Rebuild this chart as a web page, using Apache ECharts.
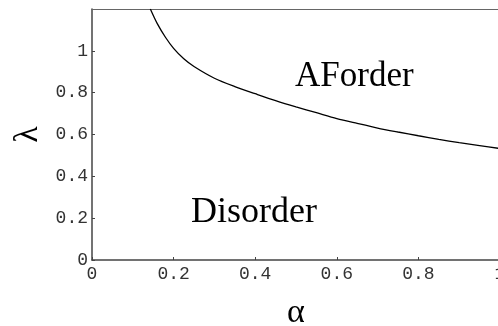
<!DOCTYPE html>
<html>
<head>
<meta charset="utf-8">
<script src="https://cdn.jsdelivr.net/npm/echarts@6/dist/echarts.min.js"></script>
<style>
  html, body { margin: 0; padding: 0; background: #fff; }
  #myChart { width: 498px; height: 326px; }
</style>
</head>
<body>
<div id="myChart"></div>
<script>
// phase boundary lambda(alpha)
var alphaData = [0.143, 0.16, 0.18, 0.2, 0.225, 0.25, 0.3, 0.35, 0.4, 0.45, 0.5,
  0.55, 0.6, 0.65, 0.7, 0.75, 0.8, 0.85, 0.9, 0.95, 1.0]
var lambdaData = [1.2, 1.13, 1.065, 1.012, 0.962, 0.925, 0.869, 0.829, 0.795, 0.762, 0.732,
  0.704, 0.676, 0.653, 0.631, 0.612, 0.594, 0.577, 0.561, 0.547, 0.533]
var xTicks = [0, 0.2, 0.4, 0.6, 0.8, 1]
var yTicks = [0, 0.2, 0.4, 0.6, 0.8, 1]

var points = []
for (var i = 0; i < alphaData.length; i++) {
  points.push([alphaData[i], lambdaData[i]])
}

var tickFont = {
  fontFamily: 'Liberation Mono',
  fontSize: 18,
  color: '#333'
}

var myChart = echarts.init(document.getElementById('myChart'))
myChart.setOption({
  animation: false,
  grid: { left: 92, top: 9, width: 408, height: 251, outerBoundsMode: 'none' },
  xAxis: [
    {
      type: 'value',
      min: 0,
      max: 1,
      interval: 0.2,
      name: 'α',
      nameLocation: 'middle',
      nameGap: 36,
      nameTextStyle: { fontFamily: 'Liberation Serif', fontSize: 34, color: '#000' },
      axisLine: { lineStyle: { color: '#444', width: 1.5 } },
      axisTick: { inside: true, length: 3, lineStyle: { color: '#444' } },
      axisLabel: Object.assign({ margin: 5, showMaxLabel: true, hideOverlap: false, formatter: function (v) {
        var r = Math.round(v * 10) / 10
        return xTicks.indexOf(r) >= 0 ? String(r) : ''
      } }, tickFont),
      splitLine: { show: false }
    },
    {
      // top frame line
      type: 'value',
      position: 'top',
      min: 0,
      max: 1,
      axisLine: { lineStyle: { color: '#666', width: 1 } },
      axisTick: { show: false },
      axisLabel: { show: false },
      splitLine: { show: false }
    }
  ],
  yAxis: {
    type: 'value',
    min: 0,
    max: 1.2,
    interval: 0.2,
    name: 'λ',
    nameLocation: 'middle',
    nameRotate: 90,
    nameGap: 47,
    nameTextStyle: { fontFamily: 'Liberation Serif', fontSize: 34, color: '#000' },
    axisLine: { show: true, lineStyle: { color: '#444', width: 1.5 } },
    axisTick: { show: true, inside: true, length: 3, lineStyle: { color: '#444' } },
    axisLabel: Object.assign({ margin: 4, showMaxLabel: false, formatter: function (v) {
      var r = Math.round(v * 10) / 10
      return yTicks.indexOf(r) >= 0 ? String(r) : ''
    } }, tickFont),
    splitLine: { show: false }
  },
  series: [
    {
      type: 'line',
      data: points,
      showSymbol: false,
      smooth: 0.3,
      lineStyle: { color: '#000', width: 1.3 }
    }
  ],
  graphic: [
    {
      type: 'text',
      left: 295,
      top: 59,
      style: { text: 'AForder', font: '35px "Liberation Serif"', fill: '#000' }
    },
    {
      type: 'text',
      left: 191,
      top: 195,
      style: { text: 'Disorder', font: '36px "Liberation Serif"', fill: '#000' }
    }
  ]
})
</script>
</body>
</html>
